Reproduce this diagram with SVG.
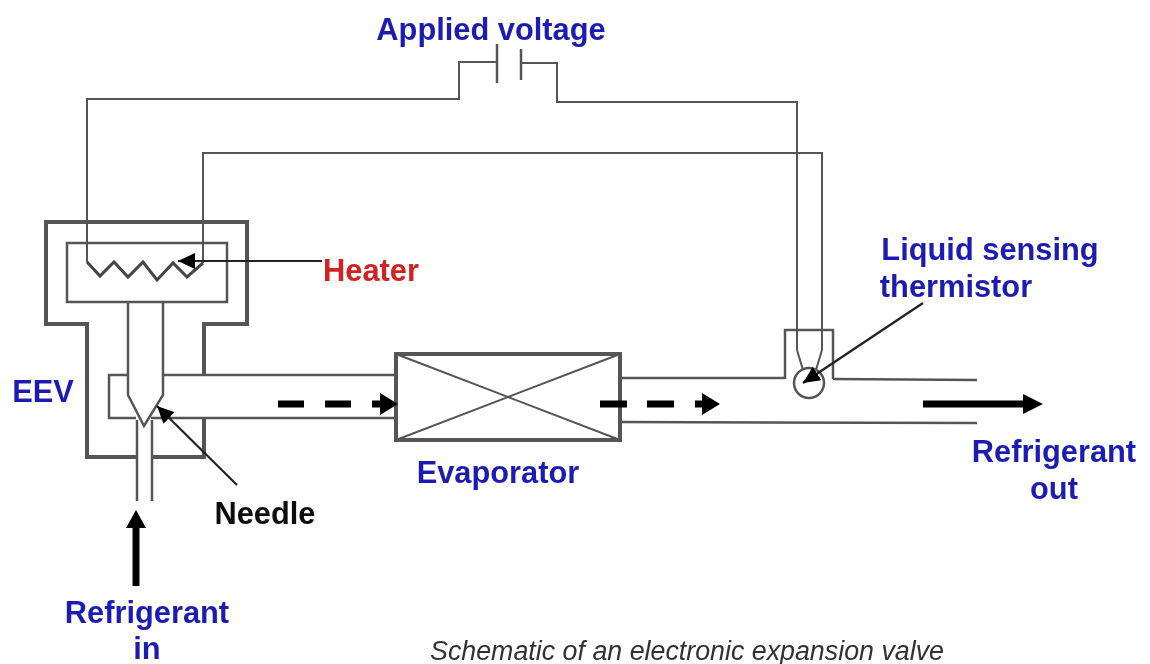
<svg xmlns="http://www.w3.org/2000/svg" width="1150" height="664" viewBox="0 0 1150 664">
<style>
.l{fill:none;stroke:#555;stroke-width:2}
.z{fill:none;stroke:#444;stroke-width:3}
.t{fill:none;stroke:#555;stroke-width:4}
.m{fill:none;stroke:#555;stroke-width:2.5}
.a{fill:none;stroke:#222;stroke-width:2.2}
.k{fill:none;stroke:#000;stroke-width:7}
.h{fill:#000}
g,text{filter:url(#b)}
text{font-family:"Liberation Sans",Arial,sans-serif;font-weight:bold;font-size:30.8px;fill:#1f1fb4;text-anchor:middle}
</style>
<defs>
<filter id="b" filterUnits="userSpaceOnUse" x="0" y="0" width="1150" height="664"><feGaussianBlur stdDeviation="0.5"/></filter>
<marker id="ah" markerUnits="userSpaceOnUse" markerWidth="18" markerHeight="16" refX="17" refY="8" orient="auto"><path d="M0 0L17 8L0 16Z" fill="#000"/></marker>
</defs>
<rect width="1150" height="664" fill="#fff"/>
<g id="eev">
<path class="t" d="M137 457H87V324H46V222H247V324H204V375M204 418V457H152"/>
<rect class="m" x="67" y="243" width="160" height="59"/>
<path class="m" d="M128 302V395L144 426L163 395V302"/>
<path class="m" d="M128 375H109V418H136M151 418H163"/>
<path class="m" d="M137 420V501M152 420V501"/>
<path class="z" d="M87 262L100 276L114 262L128 277L143 262L157 280L173 263L187 277L203 263"/>
</g>
<g id="evaporator">
<rect class="t" x="396" y="354" width="224" height="86"/>
<path class="l" d="M396 354L620 440M620 354L396 440"/>
</g>
<g id="thermistor">
<path class="m" d="M785 379V330H833V379"/>
<circle class="m" cx="809" cy="383" r="15"/>
<path class="l" d="M797 350L803 370M822 350L816 370"/>
</g>
<g id="voltage">
<path class="m" d="M497 44V83M521 49V80"/>
</g>
<g id="connectors">
<path class="l" d="M87 262V99H459V62H497M521 63H557V102H797V350"/>
<path class="l" d="M203 263V153H822V350"/>
<path class="m" d="M163 375H396M163 418H396M620 378H785M833 379L977 380M620 422L977 423"/>
<path class="a" marker-end="url(#ah)" d="M322 261H178"/>
<path class="a" marker-end="url(#ah)" d="M237 485L157 406"/>
<path class="a" marker-end="url(#ah)" d="M923 303L803 383"/>
<path class="k" d="M278 404H304M325 404H351M372 404H384M600 404H627M647 404H674M695 404H706M923 404H1026M136 586V526"/>
<path class="h" d="M380 393L398 404L380 415ZM702 393L720 404L702 415ZM1023 394L1043 404L1023 414ZM126 528L136 510L146 528Z"/>
</g>
<text x="491" y="40">Applied voltage</text>
<text x="371" y="281" style="fill:#d42020">Heater</text>
<text x="990" y="260">Liquid sensing</text>
<text x="956" y="297">thermistor</text>
<text x="43" y="402">EEV</text>
<text x="498" y="483">Evaporator</text>
<text x="265" y="524" style="fill:#111">Needle</text>
<text x="1054" y="462">Refrigerant</text>
<text x="1054" y="499">out</text>
<text x="147" y="623">Refrigerant</text>
<text x="147" y="659">in</text>
<text x="687" y="660" style="font-weight:normal;font-style:italic;font-size:26.8px;fill:#333">Schematic of an electronic expansion valve</text>
</svg>
